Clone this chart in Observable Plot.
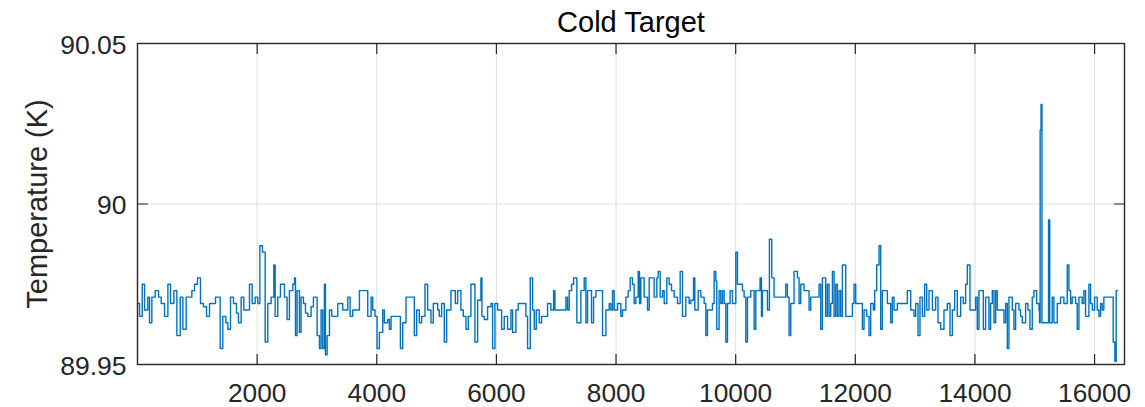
<!DOCTYPE html>
<html>
<head>
<meta charset="utf-8">
<script src="https://cdn.jsdelivr.net/npm/d3@7"></script>
<script src="https://cdn.jsdelivr.net/npm/@observablehq/plot@0.6"></script>
<style>
  html, body { margin: 0; padding: 0; background: #ffffff; }
  #chart { width: 1145px; height: 407px; }
</style>
</head>
<body>
<div id="chart"></div>
<script>
// Cold target temperature record: sample index where the reading changes, and the held value (K)
const sampleIndex = [
  0, 34, 79, 118, 173, 201, 240, 296, 352, 396, 452, 508, 552, 608, 658, 714, 758, 814, 909, 953,
  1003, 1053, 1103, 1154, 1204, 1304, 1382, 1426, 1477, 1510, 1555, 1605, 1655, 1688, 1733, 1777, 1872, 1917, 1967, 2011,
  2045, 2089, 2134, 2178, 2234, 2279, 2301, 2345, 2390, 2457, 2501, 2540, 2596, 2624, 2641, 2668, 2707, 2735, 2774, 2808,
  2847, 2902, 2941, 3003, 3042, 3069, 3097, 3125, 3142, 3170, 3209, 3248, 3348, 3431, 3515, 3554, 3598, 3710, 3849, 3905,
  3932, 3971, 4005, 4044, 4100, 4127, 4183, 4211, 4239, 4395, 4434, 4489, 4628, 4667, 4711, 4750, 4806, 4850, 4906, 4945,
  5018, 5045, 5084, 5129, 5168, 5240, 5313, 5352, 5407, 5446, 5491, 5530, 5574, 5641, 5686, 5741, 5758, 5797, 5853, 5909,
  5936, 5975, 6020, 6087, 6131, 6187, 6243, 6271, 6326, 6365, 6493, 6521, 6566, 6605, 6633, 6666, 6716, 6755, 6855, 6911,
  6956, 6978, 7162, 7189, 7217, 7256, 7290, 7345, 7412, 7468, 7496, 7524, 7590, 7624, 7663, 7774, 7830, 7886, 7913, 7941,
  7969, 8025, 8080, 8108, 8164, 8203, 8236, 8275, 8303, 8331, 8370, 8392, 8415, 8470, 8526, 8554, 8637, 8682, 8704, 8738,
  8777, 8805, 8849, 8888, 8927, 8972, 9027, 9072, 9111, 9166, 9222, 9250, 9295, 9317, 9373, 9417, 9473, 9501, 9528, 9612,
  9640, 9668, 9684, 9723, 9751, 9779, 9807, 9835, 9863, 9907, 9946, 10002, 10030, 10113, 10141, 10169, 10197, 10252, 10308, 10336,
  10408, 10431, 10447, 10531, 10564, 10603, 10642, 10837, 10865, 10893, 10921, 10976, 11032, 11060, 11088, 11143, 11227, 11255, 11394, 11422,
  11450, 11505, 11533, 11561, 11589, 11617, 11645, 11673, 11700, 11728, 11756, 11784, 11840, 11951, 11979, 12007, 12118, 12146, 12191, 12229,
  12257, 12302, 12324, 12357, 12397, 12424, 12452, 12536, 12591, 12619, 12647, 12703, 12870, 12926, 12981, 13009, 13048, 13081, 13121, 13159,
  13193, 13232, 13288, 13343, 13382, 13427, 13482, 13538, 13583, 13622, 13661, 13705, 13761, 13805, 13844, 13872, 13917, 14011, 14039, 14067,
  14140, 14178, 14234, 14262, 14290, 14318, 14346, 14373, 14485, 14513, 14541, 14568, 14624, 14652, 14680, 14735, 14763, 14791, 14847, 14886,
  14919, 14958, 14986, 15031, 15070, 15080, 15090, 15105, 15120, 15230, 15250, 15292, 15320, 15376, 15431, 15487, 15543, 15571, 15599, 15626,
  15682, 15710, 15738, 15793, 15821, 15849, 15905, 15933, 15961, 16000, 16044, 16072, 16100, 16128, 16155, 16311, 16339, 16361, 16384
];
const temperatureK = [
  89.969, 89.965, 89.975, 89.967, 89.971, 89.963, 89.971, 89.973, 89.971, 89.969, 89.965, 89.975, 89.969, 89.973, 89.959, 89.971, 89.961, 89.971, 89.973, 89.975,
  89.977, 89.969, 89.968, 89.965, 89.969, 89.971, 89.955, 89.965, 89.963, 89.961, 89.971, 89.969, 89.966, 89.963, 89.971, 89.967, 89.975, 89.969, 89.971, 89.969,
  89.987, 89.985, 89.957, 89.969, 89.971, 89.981, 89.965, 89.971, 89.975, 89.971, 89.964, 89.973, 89.975, 89.977, 89.959, 89.973, 89.960, 89.971, 89.969, 89.966,
  89.965, 89.968, 89.971, 89.959, 89.955, 89.967, 89.955, 89.975, 89.953, 89.959, 89.967, 89.965, 89.969, 89.967, 89.971, 89.965, 89.967, 89.973, 89.965, 89.971,
  89.967, 89.965, 89.955, 89.960, 89.967, 89.963, 89.964, 89.961, 89.965, 89.955, 89.963, 89.971, 89.959, 89.967, 89.963, 89.965, 89.975, 89.967, 89.963, 89.969,
  89.967, 89.965, 89.969, 89.957, 89.967, 89.973, 89.969, 89.973, 89.967, 89.965, 89.961, 89.965, 89.975, 89.957, 89.970, 89.977, 89.965, 89.964, 89.968, 89.969,
  89.955, 89.969, 89.967, 89.961, 89.965, 89.961, 89.967, 89.960, 89.967, 89.969, 89.965, 89.955, 89.977, 89.967, 89.961, 89.967, 89.963, 89.965, 89.969, 89.967,
  89.973, 89.967, 89.971, 89.967, 89.973, 89.975, 89.977, 89.963, 89.973, 89.977, 89.963, 89.973, 89.963, 89.971, 89.973, 89.959, 89.967, 89.969, 89.967, 89.973,
  89.967, 89.969, 89.965, 89.967, 89.971, 89.973, 89.977, 89.975, 89.969, 89.971, 89.979, 89.969, 89.977, 89.971, 89.967, 89.977, 89.971, 89.977, 89.979, 89.971,
  89.973, 89.969, 89.977, 89.975, 89.973, 89.971, 89.969, 89.979, 89.965, 89.971, 89.969, 89.970, 89.977, 89.967, 89.973, 89.971, 89.969, 89.959, 89.967, 89.969,
  89.979, 89.976, 89.961, 89.973, 89.969, 89.973, 89.969, 89.957, 89.969, 89.973, 89.969, 89.985, 89.975, 89.973, 89.971, 89.957, 89.971, 89.973, 89.961, 89.973,
  89.977, 89.965, 89.973, 89.967, 89.989, 89.977, 89.971, 89.975, 89.971, 89.959, 89.969, 89.979, 89.977, 89.969, 89.975, 89.973, 89.967, 89.971, 89.975, 89.961,
  89.977, 89.965, 89.975, 89.965, 89.969, 89.979, 89.965, 89.975, 89.965, 89.973, 89.965, 89.981, 89.965, 89.969, 89.975, 89.969, 89.961, 89.967, 89.965, 89.959,
  89.969, 89.967, 89.973, 89.981, 89.987, 89.961, 89.973, 89.969, 89.963, 89.971, 89.967, 89.969, 89.973, 89.967, 89.965, 89.969, 89.959, 89.971, 89.965, 89.975,
  89.967, 89.973, 89.967, 89.971, 89.963, 89.961, 89.967, 89.969, 89.959, 89.967, 89.973, 89.965, 89.971, 89.969, 89.975, 89.981, 89.967, 89.971, 89.961, 89.973,
  89.961, 89.971, 89.961, 89.969, 89.973, 89.963, 89.973, 89.967, 89.963, 89.969, 89.955, 89.971, 89.967, 89.961, 89.969, 89.967, 89.965, 89.963, 89.969, 89.967,
  89.961, 89.971, 89.973, 89.969, 89.967, 89.963, 90.023, 90.031, 89.963, 89.995, 89.963, 89.971, 89.963, 89.969, 89.971, 89.969, 89.981, 89.973, 89.969, 89.971,
  89.969, 89.961, 89.971, 89.969, 89.973, 89.965, 89.975, 89.969, 89.967, 89.971, 89.967, 89.965, 89.969, 89.967, 89.971, 89.957, 89.951, 89.973, 89.973
];

// Axis ticks
const xTickValues = [2000, 4000, 6000, 8000, 10000, 12000, 14000, 16000];
const yTickValues = [89.95, 90, 90.05];

const titleText = "Cold Target";
const yLabelText = "Temperature (K)";

const series = sampleIndex.map((s, i) => ({sample: s, temperature: temperatureK[i]}));

const axisColor = "#262626";
const gridColor = "#dfdfdf";
const lineColor = "#0072BD";
const fontFamily = "'Liberation Sans', Arial, Helvetica, sans-serif";

// Inward-facing tick: a plain stroke from the anchor point
const tickShape = {
  draw(context, length) {
    context.moveTo(0, 0);
    context.lineTo(0, -length);
  }
};
const tickStyle = {length: 10, anchor: "start", shape: tickShape, stroke: axisColor, strokeWidth: 1.2};

const chart = Plot.plot({
  width: 1145,
  height: 407,
  marginLeft: 137,
  marginRight: 21,
  marginTop: 43,
  marginBottom: 43,
  style: {fontFamily, background: "#ffffff", overflow: "visible"},
  x: {domain: [0, 16500]},
  y: {domain: [89.95, 90.05]},
  marks: [
    Plot.gridX(xTickValues, {stroke: gridColor, strokeOpacity: 1, strokeWidth: 1}),
    Plot.gridY([90], {stroke: gridColor, strokeOpacity: 1, strokeWidth: 1}),
    Plot.line(series, {x: "sample", y: "temperature", curve: "step-after", stroke: lineColor, strokeWidth: 1.4}),
    Plot.frame({stroke: axisColor, strokeWidth: 1.4}),
    Plot.vector(xTickValues, {x: d => d, frameAnchor: "bottom", rotate: 0, ...tickStyle}),
    Plot.vector(xTickValues, {x: d => d, frameAnchor: "top", rotate: 180, ...tickStyle}),
    Plot.vector(yTickValues, {y: d => d, frameAnchor: "left", rotate: 90, ...tickStyle}),
    Plot.vector(yTickValues, {y: d => d, frameAnchor: "right", rotate: -90, ...tickStyle}),
    Plot.axisX(xTickValues, {
      tickSize: 0, tickPadding: 19, fontSize: 26.3, fill: axisColor,
      tickFormat: d => String(d), label: null
    }),
    Plot.axisY(yTickValues, {
      tickSize: 0, tickPadding: 11, fontSize: 26.5, fill: axisColor, dy: 2,
      tickFormat: d => String(d), label: null
    }),
    Plot.text([titleText], {
      frameAnchor: "top", dy: -21, fontSize: 29, fill: "#000000",
      textAnchor: "middle", lineAnchor: "middle"
    }),
    Plot.text([yLabelText], {
      frameAnchor: "left", dx: -100, rotate: -90, fontSize: 29, fill: axisColor,
      textAnchor: "middle", lineAnchor: "middle"
    })
  ]
});

document.getElementById("chart").appendChild(chart);
</script>
</body>
</html>
